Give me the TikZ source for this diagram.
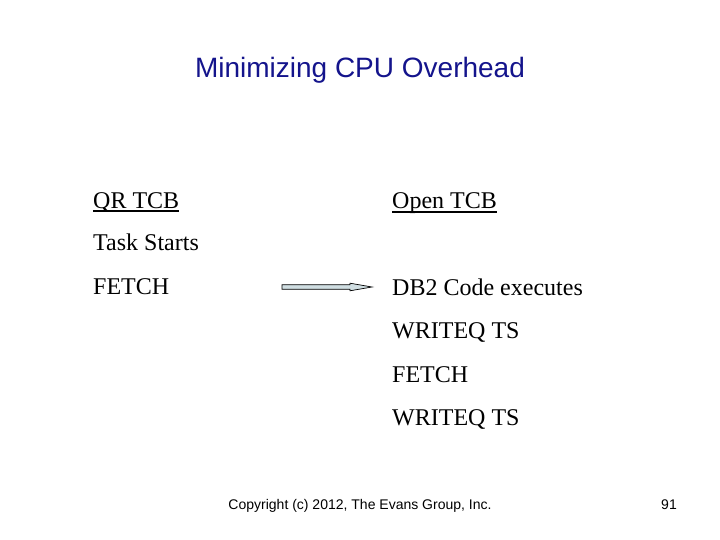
\documentclass[tikz,border=0pt]{standalone}
\usepackage{fontspec}
\setmainfont{Liberation Serif}
\newfontfamily\arialf{Liberation Sans}
\definecolor{titleblue}{RGB}{20,20,140}
\definecolor{arrowfill}{RGB}{208,222,226}
\begin{document}
\begin{tikzpicture}[x=1pt,y=-1pt,
  body/.style={anchor=base west,inner sep=0pt,font=\fontsize{24}{28}\selectfont},
  foot/.style={anchor=base,inner sep=0pt,font=\arialf\fontsize{14}{16}\selectfont}]
\useasboundingbox (0,0) rectangle (720,540);
\node[anchor=base,inner sep=0pt,text=titleblue,font=\arialf\fontsize{28}{32}\selectfont] (title) at (360,78) {Minimizing CPU Overhead};
\node[body] (qr) at (93,208) {QR TCB};
\node[body] (open) at (392,209) {Open TCB};
\draw[line width=2pt] ([yshift=-3.2pt]qr.base west) -- ([yshift=-3.2pt]qr.base east);
\draw[line width=2pt] ([yshift=-3.2pt]open.base west) -- ([yshift=-3.2pt]open.base east);
\node[body] (task) at (93,251) {Task Starts};
\node[body] (fetch1) at (93,294) {FETCH};
\node[body] (db2) at (392,295) {DB2 Code executes};
\node[body] (wr1) at (392,338) {WRITEQ TS};
\node[body] (fetch2) at (392,382) {FETCH};
\node[body] (wr2) at (392,425) {WRITEQ TS};
\coordinate (as) at (282,287);
\coordinate (at) at (372,287);
\draw[fill=arrowfill,line width=0.7pt] (as) -- (282,284.7) -- (350,284.7) -- (350,283.2) -- (at) -- (350,290.8) -- (350,289.3) -- (282,289.3) -- cycle;
\node[foot] (copy) at (360,509) {Copyright (c) 2012, The Evans Group, Inc.};
\node[foot] (num) at (669,509) {91};
\end{tikzpicture}
\end{document}
